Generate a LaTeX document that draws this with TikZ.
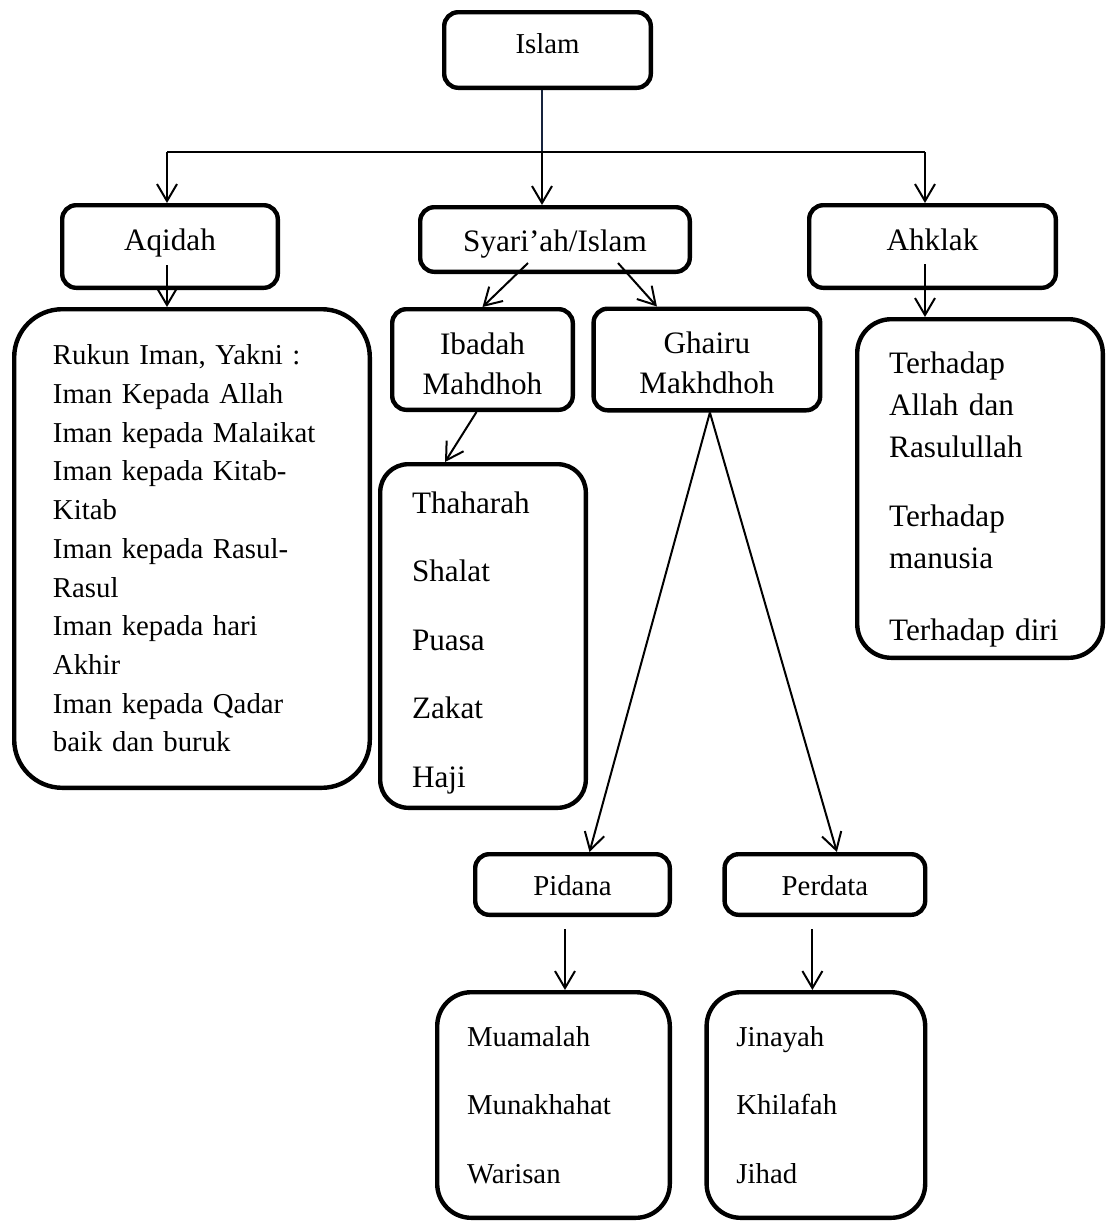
\documentclass[tikz,border=0pt]{standalone}
\usepackage{fontspec}
\setmainfont{Liberation Serif}
\usetikzlibrary{arrows.meta, calc, positioning}
\definecolor{GarisNavy}{RGB}{23,35,60}
\newcommand{\hurufspasi}[2]{\fontsize{#1}{#2}\selectfont}

\begin{document}
\begin{tikzpicture}[x=0.5pt, y=-0.5pt,
	kotak/.style={rectangle, draw, line width=2.2pt, rounded corners=7pt, align=center,
		inner sep=0pt, font=\hurufspasi{15.6pt}{20pt}},
	kotakkecil/.style={kotak, font=\hurufspasi{14.4pt}{19pt}},
	daftar/.style={kotak, align=left, rounded corners=17pt},
	panah/.style={-{Straight Barb[length=8.5pt, width=10pt]}, line width=1pt},
	garis/.style={line width=1pt}]

	\useasboundingbox (0,0) rectangle (1108,1222);

	\node[kotakkecil, minimum width=103.3pt, minimum height=37.8pt, text height=10pt, text depth=7pt] (islam) at (547.5,50) {Islam};
	\node[kotak, minimum width=107.8pt, minimum height=41.3pt, text height=11pt, text depth=7.5pt] (aqidah) at (170,246.5) {Aqidah};
	\node[kotak, minimum width=134.8pt, minimum height=32.3pt, text height=16pt, text depth=4pt] (syariah) at (555,239.5) {Syari’ah/Islam};
	\node[kotak, minimum width=123.3pt, minimum height=41.3pt, text height=11pt, text depth=7.5pt] (ahklak) at (932.5,246.5) {Ahklak};
	\node[kotak, minimum width=90.3pt, minimum height=50.3pt] (ibadah) at (482.5,359.5) {\rule{0pt}{15.5pt}Ibadah\\Mahdhoh};
	\node[kotak, minimum width=113.3pt, minimum height=50.8pt, right=8.2pt of ibadah] (ghairu) {\rule{0pt}{14.5pt}Ghairu\\Makhdhoh};

	\node[daftar, font=\hurufspasi{14.4pt}{19.35pt}, rounded corners=24pt, minimum width=177.8pt, minimum height=239.3pt,
		inner xsep=19.4pt, text width=139pt] (listaqidah) at (192,548.5)
		{Rukun Iman, Yakni :\\Iman Kepada Allah\\Iman kepada Malaikat\\Iman kepada Kitab-\\Kitab\\Iman kepada Rasul-\\Rasul\\Iman kepada hari\\Akhir\\Iman kepada Qadar\\baik dan buruk};
	\node[daftar, font=\hurufspasi{15.6pt}{34.25pt}, rounded corners=14pt, minimum width=102.8pt, minimum height=171.8pt,
		inner xsep=15.9pt, text width=71pt] (listibadah) at (483,636)
		{\rule{0pt}{17.4pt}Thaharah\\Shalat\\Puasa\\Zakat\\Haji};
	\node[daftar, font=\hurufspasi{15.6pt}{21pt}, minimum width=122.8pt, minimum height=169.3pt,
		inner xsep=16pt, text width=90.8pt] (listahklak) at (980,488.5)
		{\rule{0pt}{21.4pt}Terhadap\\Allah dan\\Rasulullah\\[13.5pt]Terhadap\\manusia\\[15pt]Terhadap diri};

	\node[kotakkecil, minimum width=97.3pt, minimum height=30.3pt, text height=14.5pt, text depth=4pt] (pidana) at (572.5,884.5) {Pidana};
	\node[kotakkecil, minimum width=100.3pt, minimum height=30.3pt, text height=14.5pt, text depth=4pt, right=25.2pt of pidana] (perdata) {Perdata};

	\node[daftar, font=\hurufspasi{14.4pt}{34.25pt}, minimum width=116.3pt, minimum height=112.8pt,
		inner xsep=14.9pt, text width=86.5pt] (listpidana) at (553.5,1105) {Muamalah\\Munakhahat\\Warisan};
	\node[daftar, font=\hurufspasi{14.4pt}{34.25pt}, minimum width=109.3pt, minimum height=112.8pt,
		inner xsep=14.9pt, text width=79.5pt, right=16.2pt of listpidana] (listperdata) {Jinayah\\Khilafah\\Jihad};

	\coordinate (cabang) at (542,152);
	\coordinate (kiri) at (167,152);
	\coordinate (kanan) at (925,152);
	\coordinate (pecah) at ($(ghairu.south)+(3,0)$);
	\coordinate (pA) at ($(pidana.south)+(-7.5,12)$);
	\coordinate (pB) at ($(perdata.south)+(-12.5,12)$);

	\draw[garis, GarisNavy] (islam.south -| cabang) -- (cabang);
	\draw[garis] (kiri) -- (kanan);
	\draw[panah] (kiri) -- (kiri |- aqidah.north);
	\draw[panah] (cabang) -- (cabang |- syariah.north);
	\draw[panah] (kanan) -- (kanan |- ahklak.north);
	\draw[panah] ($(kiri |- aqidah.south)+(0,-25)$) -- (kiri |- listaqidah.north);
	\draw[panah] ($(kanan |- ahklak.south)+(0,-26)$) -- (kanan |- listahklak.north);
	\draw[panah] ($(syariah.south)+(-27,-11)$) -- (ibadah.north);
	\draw[panah] ($(syariah.south)+(63,-11)$) -- ($(ghairu.north)+(-50,0)$);
	\draw[panah] ($(ibadah.south)+(-6,0)$) -- ($(listibadah.north)+(-38,0)$);
	\draw[panah] (pecah) -- ($(pidana.north)+(17,0)$);
	\draw[panah] (pecah) -- ($(perdata.north)+(12,0)$);
	\draw[panah] (pA) -- (pA |- listpidana.north);
	\draw[panah] (pB) -- (pB |- listperdata.north);
\end{tikzpicture}
\end{document}
